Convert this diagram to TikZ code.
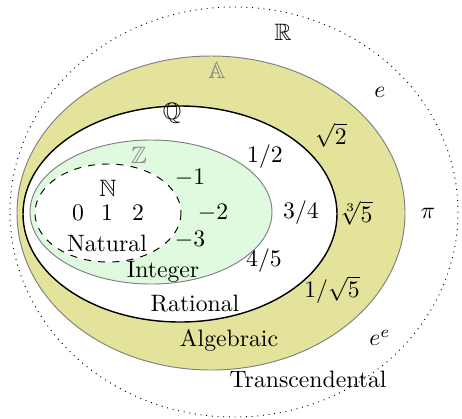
\documentclass[tikz,border=0pt]{standalone}
\usepackage{amssymb}
\definecolor{algfill}{HTML}{E3E39B}
\definecolor{intfill}{HTML}{E0FAE0}
\begin{document}
\begin{tikzpicture}[x=0.4219pt,y=-0.4219pt,
  lbl/.style={inner sep=0pt,anchor=center},
  graylbl/.style={lbl,text=gray}]
\useasboundingbox (0,0) rectangle (462,418);
% Real numbers (dotted)
\draw[dotted] (234,212) ellipse [x radius=224,y radius=205];
% Algebraic
\draw[gray,fill=algfill] (211,213) ellipse [x radius=194,y radius=157];
% Rational
\draw[black,semithick,fill=white] (180,214) ellipse [x radius=157,y radius=108];
% Integer
\draw[gray,fill=intfill] (151,212) ellipse [x radius=121,y radius=72];
% Natural
\draw[dashed,fill=white] (108,213) ellipse [x radius=73,y radius=49];
% labels
\node[lbl] (R) at (283,32) {$\mathbb{R}$};
\node[lbl] (e) at (380,92) {$e$};
\node[graylbl] (A) at (217,70) {$\mathbb{A}$};
\node[lbl] (Q) at (172,113) {$\mathbb{Q}$};
\node[lbl] (sq2) at (331,135) {$\sqrt{2}$};
\node[graylbl] (Z) at (139,155) {$\mathbb{Z}$};
\node[lbl] (half) at (265,157) {$1/2$};
\node[lbl] (m1) at (190,178) {$-1$};
\node[lbl] (N) at (108,188) {$\mathbb{N}$};
\node[lbl] (n0) at (78,213) {$0$};
\node[lbl] (n1) at (107,213) {$1$};
\node[lbl] (n2) at (138,213) {$2$};
\node[lbl] (m2) at (213,213) {$-2$};
\node[lbl] (tq) at (301,213) {$3/4$};
\node[lbl] (cr5) at (356,213) {$\sqrt[3]{5}$};
\node[lbl] (pi) at (428,213) {$\pi$};
\node[lbl] (nat) at (107,243) {Natural};
\node[lbl] (m3) at (190,240) {$-3$};
\node[lbl] (fq) at (264,261) {$4/5$};
\node[lbl] (int) at (163,272) {Integer};
\node[lbl] (isq5) at (332,290) {$1/\sqrt{5}$};
\node[lbl] (rat) at (195,304) {Rational};
\node[lbl] (alg) at (229,340) {Algebraic};
\node[lbl] (ee) at (380,338) {$e^e$};
\node[lbl] (tr) at (308,379) {Transcendental};
\end{tikzpicture}
\end{document}
